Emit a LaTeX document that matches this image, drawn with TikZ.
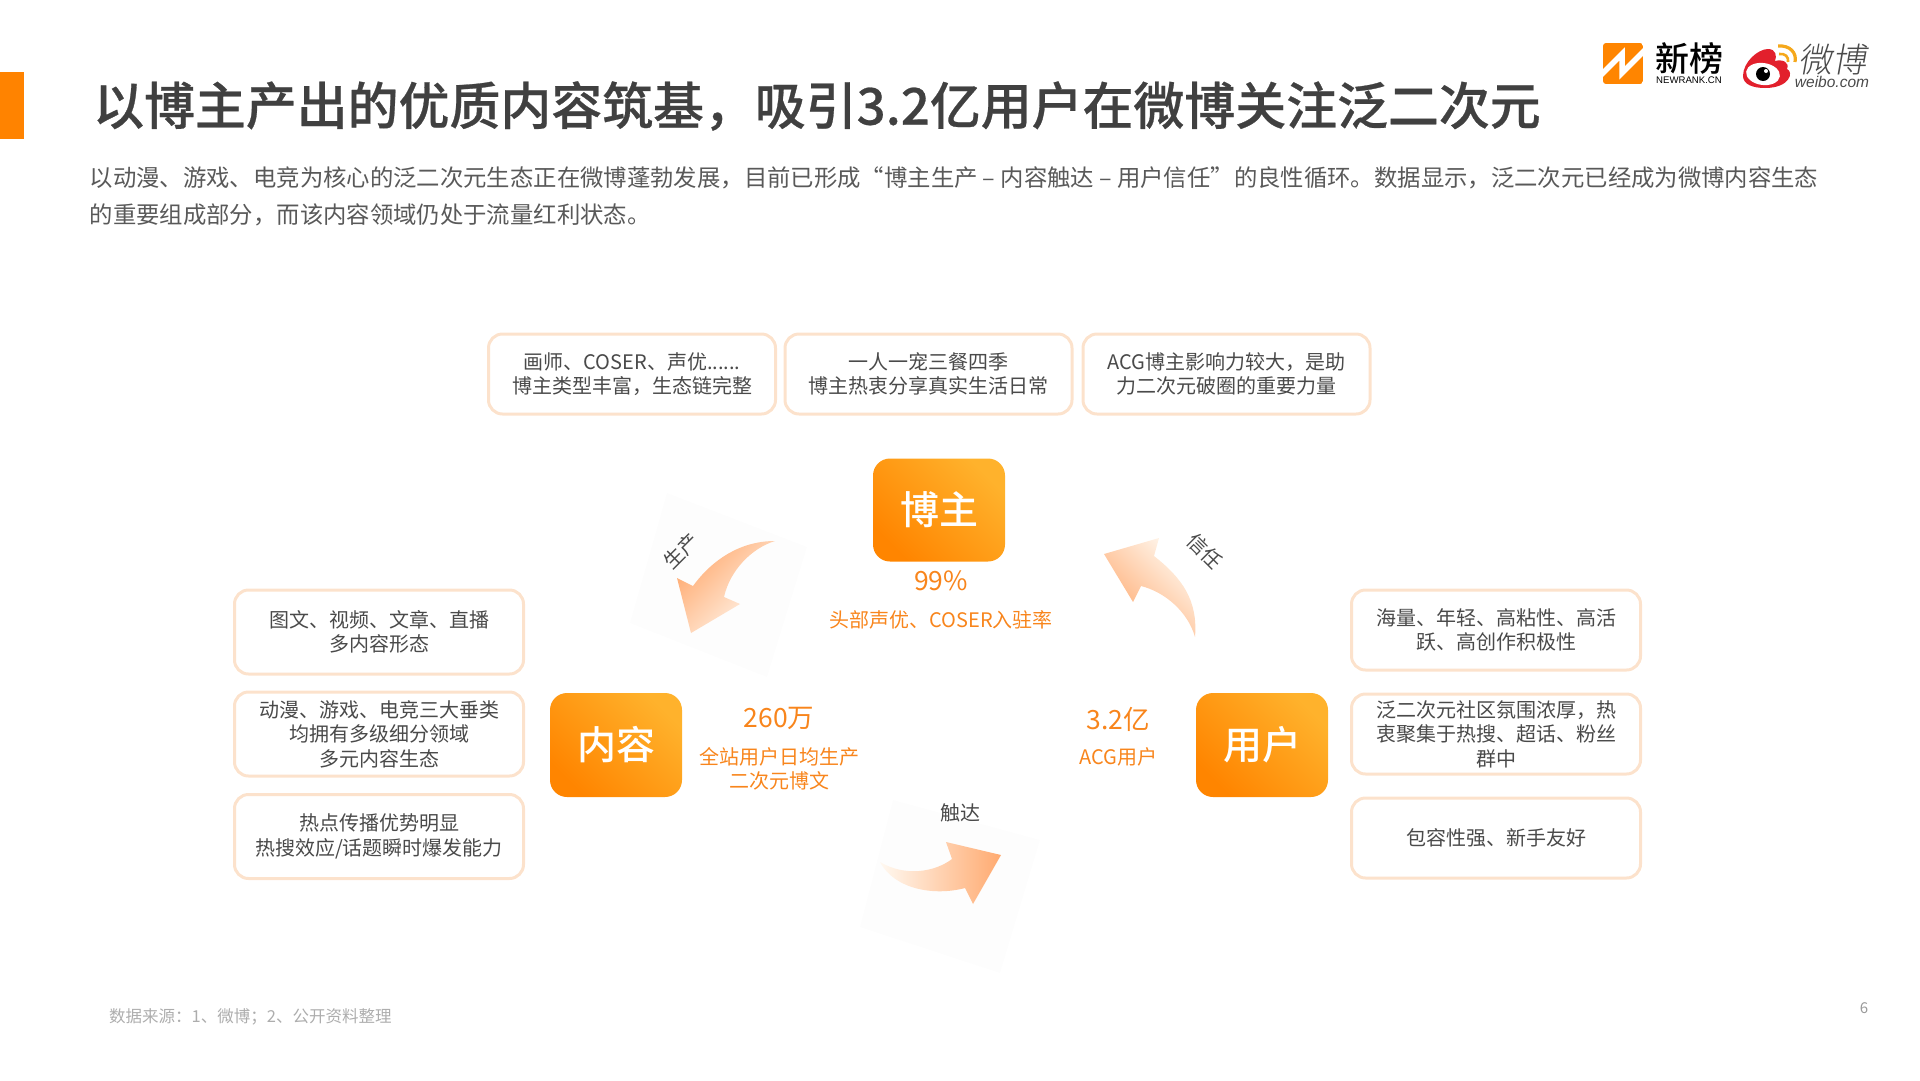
\documentclass[tikz,border=0pt]{standalone}
\usepackage{fontspec}
\setmainfont{Noto Sans CJK SC}
\newfontfamily\medfont{Noto Sans CJK SC Medium}
\newfontfamily\titlefont[FakeBold=0.5]{Noto Sans CJK SC Medium}
\newfontfamily\lightfont{Noto Sans CJK SC Light}
\newfontfamily\latinfont{Liberation Sans}
\usetikzlibrary{positioning}
\definecolor{titlegray}{HTML}{404040}
\definecolor{subgray}{HTML}{595959}
\definecolor{boxtext}{HTML}{4A4A4A}
\definecolor{boxline}{HTML}{FCE2CC}
\definecolor{accent}{HTML}{F8851C}
\definecolor{barorange}{HTML}{FF8300}
\definecolor{gradA}{HTML}{FF8500}
\definecolor{gradB}{HTML}{FFB22C}
\definecolor{arrowA}{HTML}{FFAA70}
\definecolor{arrowB}{HTML}{FFCFA8}
\definecolor{arrowC}{HTML}{FFF9F1}
\definecolor{ghost}{HTML}{FDFDFD}
\definecolor{wbred}{HTML}{E2202C}
\definecolor{wbgold}{HTML}{F5A81C}
\newcommand{\fs}[2]{\fontsize{#1}{#2}\selectfont}
\tikzset{
  infobox/.style={draw=boxline,line width=3pt,rounded corners=14pt,fill=white,
    align=center,text=boxtext,font=\fs{20}{24.5},inner sep=0pt,
    minimum width=#1},
  infobox/.default=289pt,
  rolebox/.style={rounded corners=17pt,left color=gradA,right color=gradB,shading angle=135,
    text=white,font=\medfont\fs{39}{44},minimum width=132pt,inner sep=0pt},
  stat/.style={text=accent,font=\fs{26.5}{30},inner sep=0pt},
  statnote/.style={text=accent,font=\fs{20}{24},align=center,inner sep=0pt},
  flowlabel/.style={text=boxtext,font=\fs{20}{22},inner sep=0pt},
}
\begin{document}
\begin{tikzpicture}[x=1pt,y=-1pt]
\useasboundingbox (0,0) rectangle (1920,1080);
% accent bar and headings
\fill[barorange] (0,72) rectangle (24,139);
\node[anchor=west,text=titlegray,font=\titlefont\fs{50.9}{56},inner sep=0pt] (title) at (93,106) {以博主产出的优质内容筑基，吸引3.2亿用户在微博关注泛二次元};
\node[anchor=west,text=subgray,font=\fs{23.37}{27},inner sep=0pt] (subA) at (89.5,177.5) {以动漫、游戏、电竞为核心的泛二次元生态正在微博蓬勃发展，目前已形成“博主生产 – 内容触达 – 用户信任”的良性循环。数据显示，泛二次元已经成为微博内容生态};
\node[anchor=west,text=subgray,font=\fs{23.37}{27},inner sep=0pt] (subB) at (89.5,214.5) {的重要组成部分，而该内容领域仍处于流量红利状态。};
% newrank logo
\begin{scope}
\clip[rounded corners=3pt] (1603,43) rectangle (1643,84);
\fill[gradA] (1603,43) rectangle (1643,84);
\draw[white,line width=5.5pt,line join=miter] (1596,80) -- (1622,54) -- (1622,73) -- (1650,45);
\end{scope}
\node[text=black,font=\medfont\fs{34}{36},inner sep=0pt] (nrcn) at (1689.5,59) {新榜};
\node[text=black,font=\latinfont\fs{9.6}{11},inner sep=0pt] (nren) at (1689,80) {NEWRANK.CN};
% weibo logo
\fill[wbred] (1743,76) .. controls (1743,62) and (1758,49) .. (1768,49) .. controls (1776,49) and (1777,56) .. (1775,61) .. controls (1782,59) and (1790,62) .. (1787,69) .. controls (1794,72) and (1790,88) .. (1765,88) .. controls (1752,88) and (1743,84) .. (1743,76) -- cycle;
\fill[white,rotate around={-8:(1763,74)}] (1763,74) ellipse (17pt and 11pt);
\fill[black] (1763,74) circle (7pt);
\fill[white] (1766,71) circle (2pt);
\draw[wbgold,line width=3.2pt] (1778,46) .. controls (1790,45) and (1797,53) .. (1795,62);
\draw[wbgold,line width=2.6pt] (1779,54) .. controls (1785,53) and (1789,57) .. (1788,62);
\node[text=boxtext,font=\lightfont\fs{34}{36},xslant=0.18,inner sep=0pt] (wbcn) at (1835,60) {微博};
\node[text=boxtext,font=\latinfont\itshape\fs{15.5}{17},inner sep=0pt] (wben) at (1832,82) {weibo.com};
% top row
\node[infobox=287pt,minimum height=80pt] (t1) at (632,374) {画师、COSER、声优......\\博主类型丰富，生态链完整};
\node[infobox=287pt,minimum height=80pt] (t2) at (928.5,374) {一人一宠三餐四季\\博主热衷分享真实生活日常};
\node[infobox=287pt,minimum height=80pt] (t3) at (1226.5,374) {ACG博主影响力较大，是助\\力二次元破圈的重要力量};
% left column
\node[infobox,minimum height=84pt] (l1) at (379,632) {图文、视频、文章、直播\\多内容形态};
\node[infobox,minimum height=84pt] (l2) at (379,734) {动漫、游戏、电竞三大垂类\\均拥有多级细分领域\\多元内容生态};
\node[infobox,minimum height=84pt] (l3) at (379,836.5) {热点传播优势明显\\热搜效应/话题瞬时爆发能力};
% right column
\node[infobox,minimum height=80pt] (r1) at (1496,630) {海量、年轻、高粘性、高活\\跃、高创作积极性};
\node[infobox,minimum height=80pt] (r2) at (1496,734) {泛二次元社区氛围浓厚，热\\衷聚集于热搜、超话、粉丝\\群中};
\node[infobox,minimum height=80pt] (r3) at (1496,838) {包容性强、新手友好};
% role boxes
\node[rolebox,minimum height=103pt] (blogger) at (939,510) {博主};
\node[rolebox,minimum height=104pt] (content) at (616,745) {内容};
\node[rolebox,minimum height=104pt] (users) at (1262,745) {用户};
% stats
\node[stat] (s1) at (941,581) {99\%};
\node[statnote] (n1) at (941,620) {头部声优、COSER入驻率};
\node[stat] (s2) at (779,718.5) {260万};
\node[statnote] (n2) at (779,769) {全站用户日均生产\\二次元博文};
\node[stat] (s3) at (1118,719) {3.2亿};
\node[statnote] (n3) at (1118.5,757) {ACG用户};
% faint panels behind the arrows
\fill[ghost] (667,493) -- (807,547) -- (767,677) -- (630,623) -- cycle;
\fill[ghost] (893,800) -- (1040,840) -- (1000,973) -- (860,927) -- cycle;
% cycle arrows
\shade[left color=arrowA,middle color=arrowB,right color=arrowC,shading angle=45]
  (775,541) .. controls (740,541) and (712,560) .. (693,586) -- (677,578) -- (691,633) -- (740,604) -- (724,597) .. controls (730,570) and (752,548) .. (775,541) -- cycle;
\shade[left color=arrowA,middle color=arrowB,right color=arrowC,shading angle=135]
  (1195,637) .. controls (1198,600) and (1182,578) .. (1154,556) -- (1159,538) -- (1104,554) -- (1133,602) -- (1141,586) .. controls (1165,592) and (1188,612) .. (1195,637) -- cycle;
\shade[left color=arrowC,middle color=arrowB,right color=arrowA]
  (880,862) .. controls (905,877) and (935,872) .. (952,859) -- (946,842) -- (1001,855) -- (973,904) -- (965,888) .. controls (935,896) and (895,890) .. (880,862) -- cycle;
% arrow labels
\node[flowlabel,rotate=45] (fA) at (681,551) {生产};
\node[flowlabel,rotate=-45] (fB) at (1205,551) {信任};
\node[flowlabel] (fC) at (960,813) {触达};
% footer
\node[anchor=west,text=black!32,font=\fs{16.5}{19},inner sep=0pt] (src) at (109,1017) {数据来源：1、微博；2、公开资料整理};
\node[text=black!40,font=\fs{15}{17},inner sep=0pt] (pg) at (1864,1008) {6};
\end{tikzpicture}
\end{document}
